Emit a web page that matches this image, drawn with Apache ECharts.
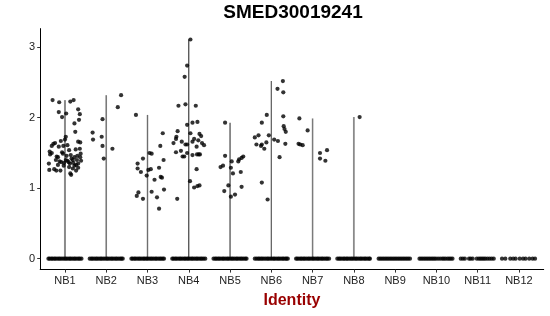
<!DOCTYPE html>
<html>
<head>
<meta charset="utf-8">
<script src="https://cdn.jsdelivr.net/npm/echarts@6/dist/echarts.min.js"></script>
<style>html,body{margin:0;padding:0;background:#fff}#c{width:550px;height:316px}</style>
</head>
<body>
<div id="c"></div>
<script>
const categories = ['NB1','NB2','NB3','NB4','NB5','NB6','NB7','NB8','NB9','NB10','NB11','NB12'];
const yTicks = [0, 1, 2, 3];
const chartTitle = 'SMED30019241';
const xTitle = 'Identity';

// non-zero cells: [jitter offset within category, expression value]
const nb1Pts = [[-0.30,2.25],[-0.14,2.22],[0.13,2.23],[0.21,2.25],[-0.15,2.08],[-0.07,2.01],[0.03,2.06],[0.32,2.12],[0.36,2.05],[0.34,1.97],[0.23,1.92],[0.25,1.80],[0.02,1.73],[0.00,1.69],[-0.10,1.67],[0.32,1.66],[0.37,1.65],[-0.28,1.63],[-0.24,1.64],[-0.32,1.60],[-0.15,1.59],[-0.04,1.60],[0.06,1.61],[0.36,1.56],[0.26,1.55],[-0.37,1.52],[-0.36,1.48],[-0.05,1.49],[0.38,1.49],[-0.20,1.45],[0.04,1.46],[0.14,1.47],[-0.22,1.40],[-0.39,1.35],[-0.17,1.33],[-0.09,1.37],[0.09,1.37],[0.19,1.40],[0.29,1.40],[0.39,1.39],[-0.38,1.26],[-0.21,1.25],[-0.11,1.25],[-0.03,1.32],[0.10,1.30],[0.23,1.32],[0.32,1.29],[0.15,1.19],[-0.17,1.44],[0.23,1.44],[0.12,1.35],[0.20,1.36],[0.02,1.40],[0.32,1.35],[-0.26,1.27],[0.27,1.25],[-0.07,1.51],[-0.32,1.50],[0.10,1.54],[0.19,1.28],[0.37,1.44],[-0.02,1.36],[0.16,1.42],[0.06,1.39],[0.27,1.33],[-0.13,1.38],[0.30,1.46],[0.13,1.21]];
const nb2Pts = [[-0.33,1.79],[-0.32,1.69],[-0.09,1.98],[-0.11,1.73],[-0.09,1.60],[-0.06,1.42],[0.15,1.56],[0.28,2.15],[0.36,2.32]];
const nb3Pts = [[-0.28,2.04],[-0.24,1.35],[-0.24,1.28],[-0.16,1.23],[-0.11,1.42],[-0.02,1.18],[0.02,1.26],[0.08,1.27],[0.05,1.50],[0.10,1.49],[0.17,1.12],[0.32,1.16],[0.28,1.29],[0.31,1.60],[0.37,1.78],[0.39,1.40],[0.35,1.15],[-0.26,0.89],[-0.22,0.94],[-0.11,0.85],[0.10,0.95],[0.23,0.87],[0.28,0.71],[0.40,0.98]];
const nb4Pts = [[0.04,3.11],[-0.04,2.74],[-0.10,2.58],[-0.25,2.17],[-0.08,2.19],[0.17,2.17],[-0.04,1.90],[0.09,1.93],[0.21,1.94],[-0.27,1.81],[-0.30,1.73],[-0.31,1.70],[-0.37,1.64],[-0.17,1.66],[-0.08,1.62],[-0.04,1.62],[0.04,1.78],[0.09,1.66],[0.13,1.70],[0.19,1.59],[0.23,1.68],[0.26,1.77],[0.30,1.74],[0.32,1.64],[0.37,1.61],[-0.31,1.51],[-0.19,1.53],[-0.15,1.45],[-0.11,1.45],[-0.04,1.50],[0.09,1.47],[0.20,1.48],[0.24,1.48],[0.27,1.48],[0.19,1.27],[0.03,1.10],[0.13,1.01],[0.21,1.03],[0.26,1.04],[-0.28,0.85]];
const nb5Pts = [[-0.12,1.93],[-0.23,1.30],[-0.17,1.32],[-0.12,1.46],[0.04,1.38],[0.02,1.29],[0.07,1.21],[0.20,1.38],[0.22,1.41],[0.28,1.43],[0.32,1.45],[0.26,1.23],[0.28,1.02],[-0.04,1.04],[-0.14,0.96],[0.02,0.88],[0.12,0.91]];
const nb6Pts = [[0.28,2.52],[0.15,2.41],[0.29,2.36],[-0.11,2.04],[0.29,2.02],[0.30,1.88],[0.32,1.84],[0.35,1.80],[-0.23,1.93],[-0.40,1.72],[-0.31,1.75],[-0.06,1.75],[0.07,1.69],[0.16,1.67],[-0.12,1.65],[-0.36,1.62],[-0.25,1.60],[-0.23,1.62],[-0.17,1.56],[0.34,1.63],[0.20,1.44],[-0.23,1.08],[-0.09,0.84]];
const nb7Pts = [[-0.32,1.99],[-0.12,1.82],[-0.34,1.63],[-0.30,1.62],[-0.24,1.61],[0.18,1.50],[0.35,1.54],[0.18,1.42],[0.31,1.39]];
const nb8Pts = [[0.14,2.01]];
const nb9Pts = [];
const nb10Pts = [];
const nb11Pts = [];
const nb12Pts = [];

// zero-expression cells: jitter offsets only
const nb1Zero = [-0.40,-0.37,-0.33,-0.30,-0.26,-0.23,-0.19,-0.15,-0.12,-0.08,-0.04,0.00,0.03,0.07,0.11,0.14,0.18,0.22,0.25,0.29,0.33,0.36,0.40];
const nb2Zero = [-0.40,-0.36,-0.33,-0.29,-0.25,-0.22,-0.18,-0.14,-0.11,-0.07,-0.03,0.01,0.04,0.08,0.12,0.15,0.19,0.23,0.26,0.30,0.34,0.37,0.40];
const nb3Zero = [-0.39,-0.36,-0.32,-0.29,-0.25,-0.21,-0.18,-0.14,-0.10,-0.07,-0.03,0.00,0.04,0.08,0.11,0.15,0.19,0.22,0.26,0.30,0.33,0.37,0.40];
const nb4Zero = [-0.40,-0.37,-0.33,-0.30,-0.26,-0.22,-0.19,-0.15,-0.11,-0.08,-0.04,-0.01,0.03,0.07,0.10,0.14,0.18,0.21,0.25,0.29,0.32,0.36,0.40];
const nb5Zero = [-0.40,-0.36,-0.33,-0.29,-0.26,-0.22,-0.18,-0.15,-0.11,-0.07,-0.04,0.00,0.04,0.07,0.11,0.15,0.18,0.22,0.26,0.29,0.33,0.37,0.40];
const nb6Zero = [-0.40,-0.36,-0.32,-0.29,-0.25,-0.22,-0.18,-0.14,-0.10,-0.07,-0.03,0.01,0.05,0.08,0.12,0.16,0.19,0.23,0.27,0.30,0.34,0.37,0.40];
const nb7Zero = [-0.40,-0.37,-0.33,-0.29,-0.26,-0.22,-0.19,-0.15,-0.11,-0.08,-0.04,0.00,0.03,0.07,0.11,0.14,0.18,0.22,0.25,0.29,0.33,0.36,0.40];
const nb8Zero = [-0.40,-0.36,-0.33,-0.29,-0.25,-0.22,-0.18,-0.15,-0.11,-0.07,-0.04,0.00,0.04,0.07,0.11,0.15,0.18,0.22,0.26,0.29,0.33,0.37,0.39];
const nb9Zero = [-0.40,-0.36,-0.32,-0.28,-0.24,-0.20,-0.16,-0.12,-0.08,-0.04,0.00,0.04,0.08,0.12,0.16,0.20,0.24,0.28,0.32,0.36];
const nb10Zero = [-0.41,-0.37,-0.33,-0.29,-0.25,-0.21,-0.17,-0.13,-0.09,-0.05,-0.01,0.04,0.09,0.14,0.18,0.22,0.27,0.31,0.35,0.39];
const nb11Zero = [-0.41,-0.36,-0.31,-0.21,-0.17,-0.12,-0.02,0.03,0.07,0.11,0.15,0.19,0.24,0.29,0.34,0.39];
const nb12Zero = [-0.41,-0.33,-0.21,-0.14,-0.08,0.02,0.10,0.16,0.25,0.33,0.39];

const pointSets = [nb1Pts,nb2Pts,nb3Pts,nb4Pts,nb5Pts,nb6Pts,nb7Pts,nb8Pts,nb9Pts,nb10Pts,nb11Pts,nb12Pts];
const zeroSets = [nb1Zero,nb2Zero,nb3Zero,nb4Zero,nb5Zero,nb6Zero,nb7Zero,nb8Zero,nb9Zero,nb10Zero,nb11Zero,nb12Zero];

// styles of the (collapsed) violins
const violinColors = ['#8a8a8a','#7a7a7a','#6e6e6e','#2e2e2e','#333333','#5a5a5a','#7a7a7a','#8a8a8a','#888','#888','#888','#888'];
const violinWidths = [2, 1.6, 1.4, 1.1, 1.1, 1.2, 1.5, 1.8, 1, 1, 1, 1];

const scatterData = [];
const violinData = [];
categories.forEach((c, i) => {
  zeroSets[i].forEach(o => scatterData.push([i + o, 0]));
  pointSets[i].forEach(p => scatterData.push([i + p[0], p[1]]));
  const vals = pointSets[i].map(p => p[1]);
  if (vals.length) violinData.push([i, Math.max.apply(null, vals)]);
});

const chart = echarts.init(document.getElementById('c'), null, {renderer: 'canvas'});
const axisCol = '#000';
chart.setOption({
  animation: false,
  backgroundColor: '#fff',
  title: {
    text: chartTitle,
    left: 293,
    top: 3,
    padding: 0,
    textAlign: 'center',
    textStyle: {fontFamily: 'Liberation Sans, Arial, sans-serif', fontWeight: 'bold', fontSize: 19, color: '#000'}
  },
  grid: {left: 40.2, right: 6.3, top: 28.6, bottom: 46.4, containLabel: false},
  xAxis: {
    type: 'value', min: -0.6, max: 11.6,
    name: xTitle, nameLocation: 'middle', nameGap: 23,
    nameTextStyle: {fontFamily: 'Liberation Sans, Arial, sans-serif', fontWeight: 'bold', fontSize: 16, color: '#990000'},
    axisLine: {show: true, onZero: false, lineStyle: {color: axisCol, width: 1}},
    axisTick: {show: true, length: 3, customValues: categories.map((c, i) => i), lineStyle: {color: '#333'}},
    axisLabel: {show: true, customValues: categories.map((c, i) => i), margin: 6,
      formatter: v => categories[Math.round(v)] || '',
      fontFamily: 'Liberation Sans, Arial, sans-serif', fontSize: 11, color: '#222'},
    splitLine: {show: false}
  },
  yAxis: {
    type: 'value', min: -0.155, max: 3.265,
    axisLine: {show: true, onZero: false, lineStyle: {color: axisCol, width: 1}},
    axisTick: {show: true, length: 3, customValues: yTicks, lineStyle: {color: '#333'}},
    axisLabel: {show: true, customValues: yTicks, margin: 5,
      fontFamily: 'Liberation Sans, Arial, sans-serif', fontSize: 11, color: '#222'},
    splitLine: {show: false}
  },
  series: [
    {
      type: 'custom',
      data: violinData,
      z: 1,
      renderItem: (params, api) => {
        const i = api.value(0);
        const p0 = api.coord([i, 0]);
        const p1 = api.coord([i, api.value(1)]);
        return {type: 'line', shape: {x1: p0[0], y1: p0[1], x2: p1[0], y2: p1[1]},
          style: {stroke: violinColors[i], lineWidth: violinWidths[i]}};
      }
    },
    {
      type: 'scatter',
      data: scatterData,
      z: 2,
      symbol: 'circle',
      symbolSize: 4.2,
      itemStyle: {color: '#000'},
      silent: true
    }
  ]
});
</script>
</body>
</html>
